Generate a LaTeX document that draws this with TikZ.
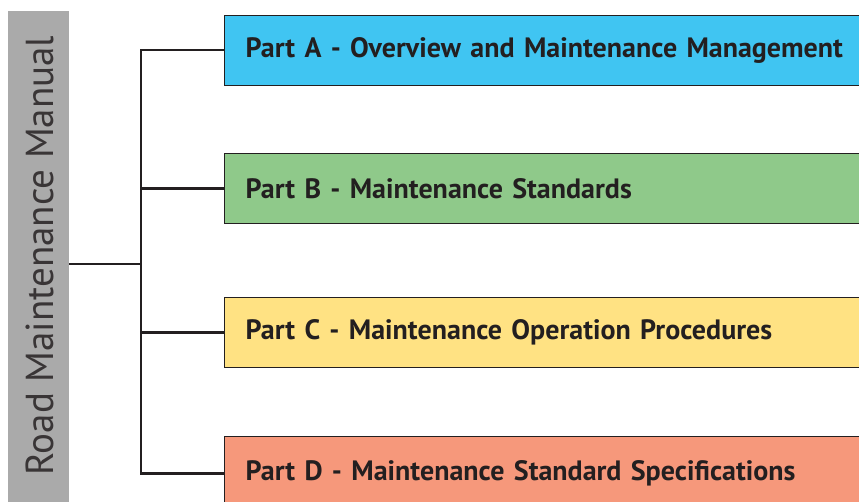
\documentclass[tikz,border=0pt]{standalone}
\usepackage{fontspec}
\setmainfont{PT Sans}
\usepackage{xcolor}
\usetikzlibrary{positioning,calc}

\definecolor{partAblue}{HTML}{40C5F2}
\definecolor{partBgreen}{HTML}{8FC98A}
\definecolor{partCyellow}{HTML}{FFE283}
\definecolor{partDsalmon}{HTML}{F6987B}
\definecolor{manualgray}{HTML}{AAAAAA}
\definecolor{inkdark}{HTML}{231F20}

\begin{document}
\begin{tikzpicture}[x=1pt,y=-1pt,
    part/.style={draw=inkdark, line width=1.3pt, anchor=north west, minimum height=70pt,
                 text width=604pt, inner xsep=21pt, align=left,
                 font=\fontsize{28}{32}\selectfont\bfseries, text=inkdark},
    link/.style={draw=inkdark, line width=2.4pt}]
    \useasboundingbox (0,0) rectangle (859,501);
    \clip (0,0) rectangle (859,501);

    % Manual bar
    \node[fill=manualgray, anchor=north west, minimum width=61pt, minimum height=500pt, inner sep=0pt] (manual) at (8,11) {};
    \node[rotate=90, anchor=base, font=\fontsize{39}{44}\selectfont, text=inkdark!90] (manualtext) at (53,255.5) {Road Maintenance Manual};

    % Parts
    \node[part, fill=partAblue] (partA) at (224,14.5) {Part A - Overview and Maintenance Management};
    \node[part, fill=partBgreen] (partB) at (224,153) {Part B - Maintenance Standards};
    \node[part, fill=partCyellow] (partC) at (224,297) {Part C - Maintenance Operation Procedures};
    \node[part, fill=partDsalmon, minimum height=74pt] (partD) at (224,436) {Part D - Maintenance Standard Specifications};

    % Tree
    \coordinate (bus) at (141,264);
    \draw[link] (manual.east |- bus) -- (bus);
    \draw[link] (partA.west) -- (partA.west -| bus) |- (partD.west);
    \draw[link] (partB.west) -- (partB.west -| bus);
    \draw[link] (partC.west) -- (partC.west -| bus);
\end{tikzpicture}
\end{document}
